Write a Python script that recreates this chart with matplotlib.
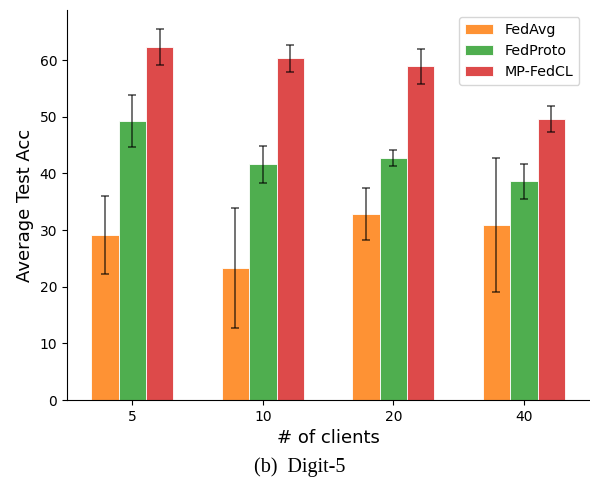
import numpy as np
import matplotlib
matplotlib.use("Agg")
import matplotlib.pyplot as plt

clients = ["5", "10", "20", "40"]
methods = ["FedAvg", "FedProto", "MP-FedCL"]
acc_fedavg = [29.1, 23.3, 32.8, 30.9]
err_fedavg = [6.9, 10.6, 4.6, 11.9]
acc_fedproto = [49.2, 41.6, 42.7, 38.6]
err_fedproto = [4.6, 3.3, 1.35, 3.05]
acc_mpfedcl = [62.3, 60.3, 58.9, 49.6]
err_mpfedcl = [3.1, 2.4, 3.1, 2.35]

colors = ["#fe9234", "#4fae4f", "#dd4a4a"]

fig = plt.figure(figsize=(5.9, 4.87), dpi=100)
ax = fig.add_axes([0.1136, 0.1786, 0.885, 0.8005])

x = np.arange(len(clients))
width = 0.21
series = [(acc_fedavg, err_fedavg), (acc_fedproto, err_fedproto), (acc_mpfedcl, err_mpfedcl)]
for i, (vals, errs) in enumerate(series):
    ax.bar(x + (i - 1) * width, vals, width, yerr=errs, color=colors[i],
           edgecolor="white", linewidth=0.6, label=methods[i],
           error_kw=dict(ecolor="black", alpha=0.7, capsize=3, elinewidth=1.1, capthick=1.1))

ax.set_xticks(x)
ax.set_xticklabels(clients, fontsize=10)
ax.tick_params(axis="y", labelsize=10)
ax.set_xlim(-0.5, 3.5)
ax.set_ylim(0, 68.8)
ax.set_yticks(range(0, 70, 10))
ax.set_xlabel("# of clients", fontsize=13)
ax.set_ylabel("Average Test Acc", fontsize=13)
ax.spines["top"].set_visible(False)
ax.spines["right"].set_visible(False)
ax.legend(loc="upper right", fontsize=10.3, bbox_to_anchor=(0.995, 1.0))

fig.text(0.508, 0.04, "(b)  Digit-5", ha="center", va="center",
         fontsize=14.5, family="Liberation Serif")

fig.savefig("out.png", dpi=100)
